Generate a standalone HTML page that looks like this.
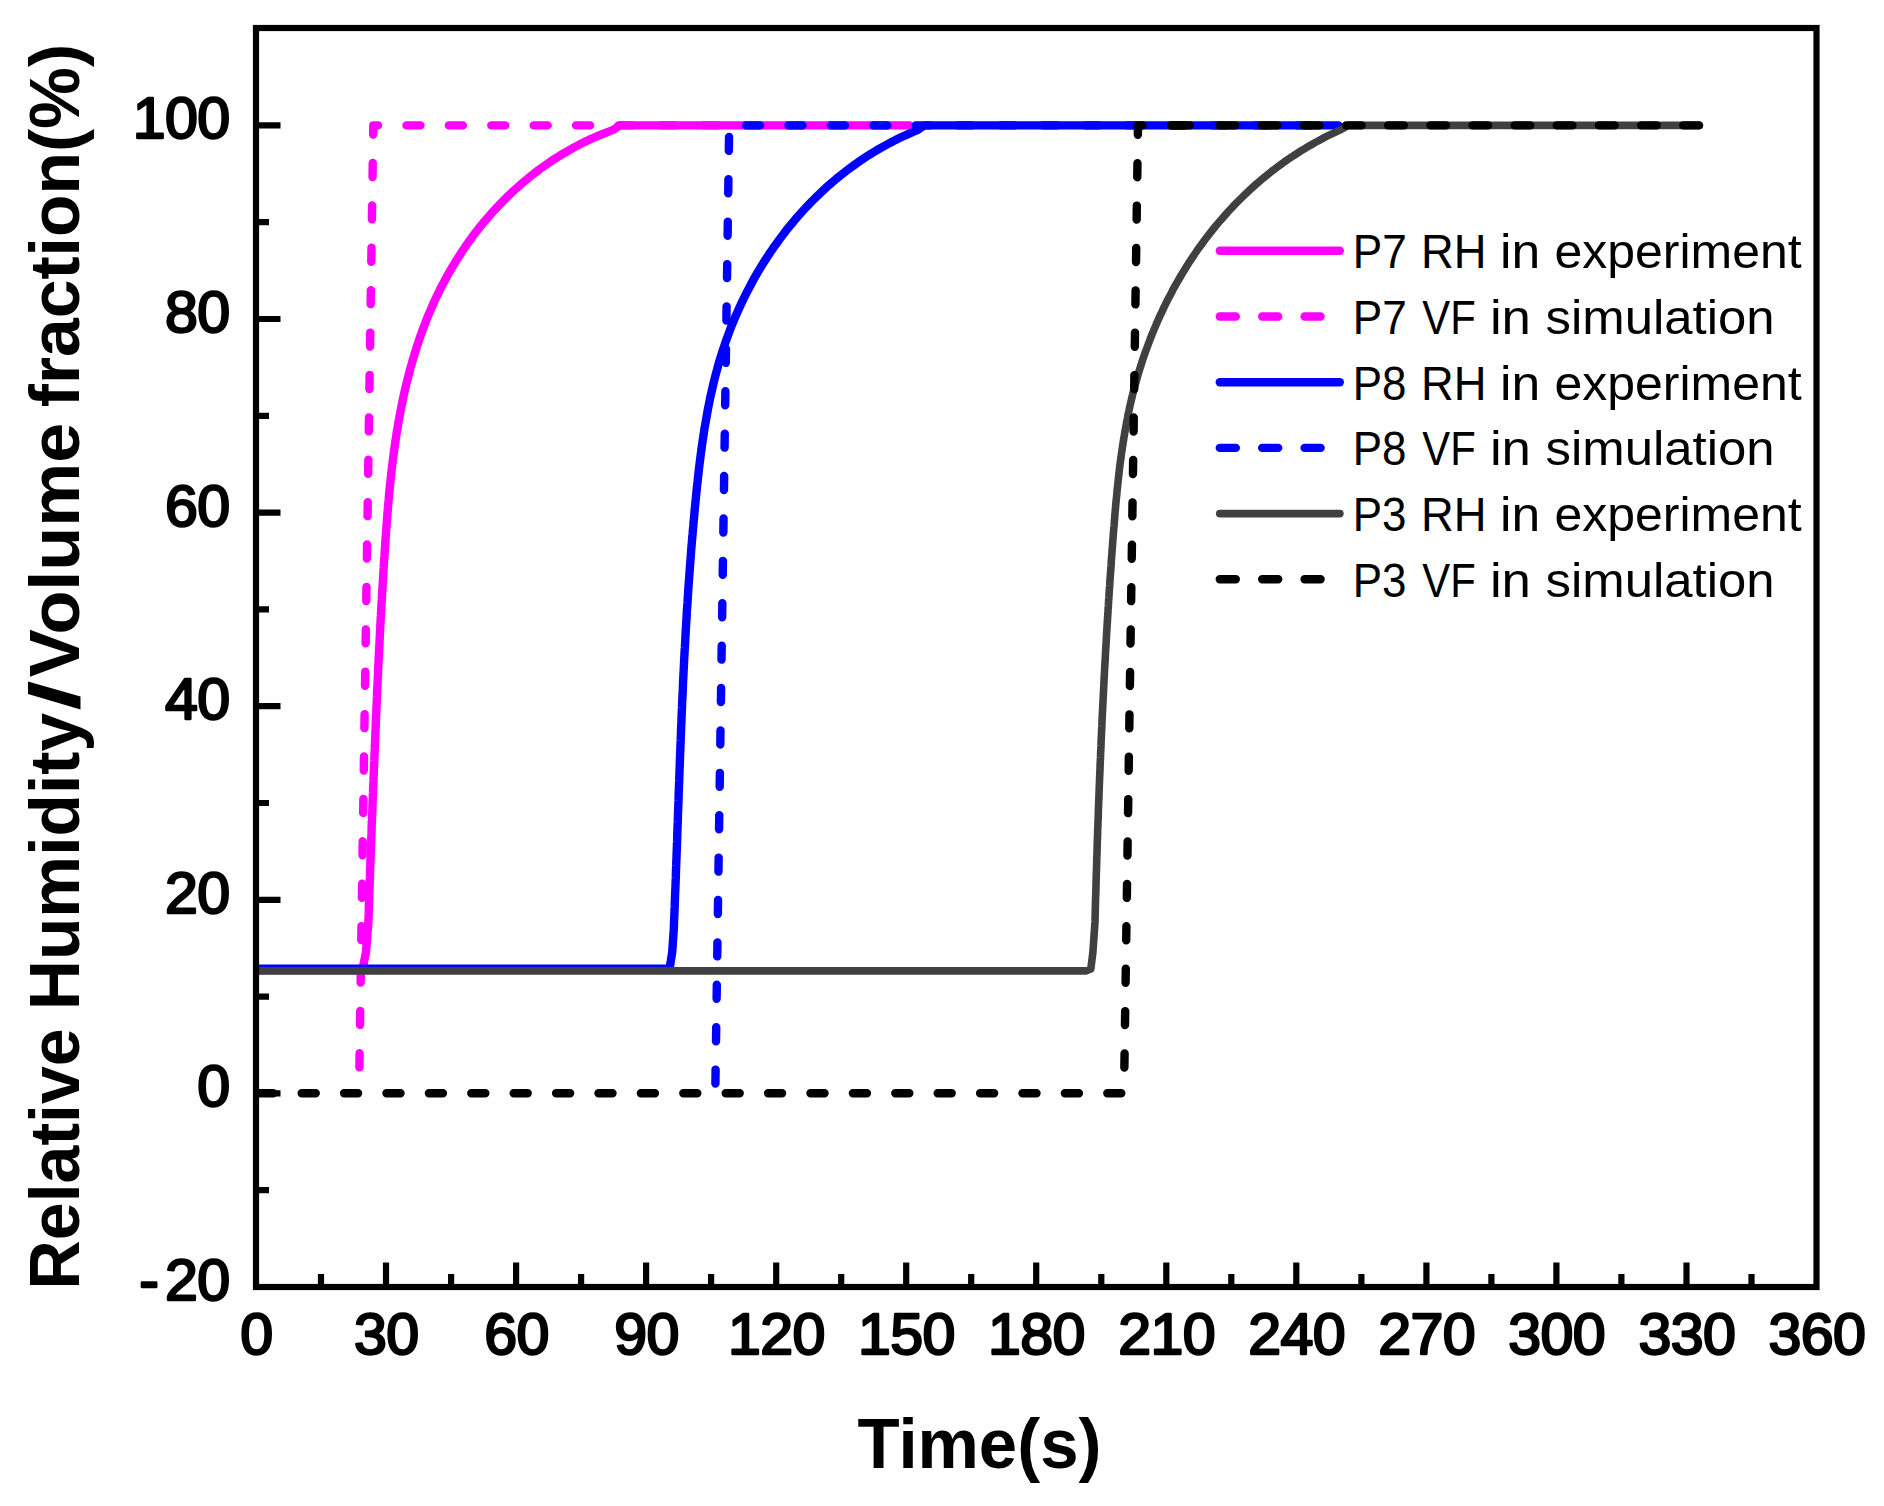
<!DOCTYPE html>
<html lang="en">
<head>
<meta charset="utf-8">
<title>Relative Humidity / Volume fraction vs Time</title>
<style>
html,body{margin:0;padding:0;background:#fff;}
body{width:1884px;height:1506px;overflow:hidden;font-family:'Liberation Sans',sans-serif;}
svg{display:block;}
</style>
</head>
<body>
<svg width="1884" height="1506" viewBox="0 0 1884 1506">
<rect width="1884" height="1506" fill="#fff"/>
<g fill="none" stroke-width="8.4" stroke-linecap="round" stroke-linejoin="round">
<path stroke="#f0f" d="M257.5,970.0 L357.9,970.0 L362.9,967.5 L366.0,952.2 L368.4,921.7 L368.5,917.7 L368.7,913.7 L368.8,909.6 L368.9,905.6 L369.1,901.6 L369.2,897.6 L369.3,893.5 L369.5,889.5 L369.6,885.5 L369.7,881.5 L369.9,877.4 L370.0,873.4 L370.1,869.4 L370.3,865.4 L370.4,861.4 L370.6,857.3 L370.7,853.3 L370.9,849.3 L371.0,845.3 L371.2,841.2 L371.3,837.2 L371.5,833.2 L371.6,829.2 L371.7,825.1 L371.9,821.1 L372.1,817.1 L372.2,813.1 L372.4,809.0 L372.5,805.0 L372.7,801.0 L372.8,797.0 L373.0,792.9 L373.1,788.9 L373.3,784.9 L373.5,780.9 L373.6,776.8 L373.8,772.8 L373.9,768.8 L374.1,764.8 L374.3,760.7 L374.4,756.7 L374.6,752.7 L374.8,748.7 L374.9,744.7 L375.1,740.6 L375.3,736.6 L375.4,732.6 L375.6,728.6 L375.8,724.5 L375.9,720.5 L376.1,716.5 L376.3,712.5 L376.4,708.5 L376.6,704.4 L376.8,700.4 L377.0,696.4 L377.1,692.4 L377.3,688.4 L377.5,684.3 L377.7,680.3 L377.9,676.3 L378.1,672.3 L378.2,668.3 L378.4,664.2 L378.6,660.2 L378.8,656.2 L379.0,652.2 L379.2,648.2 L379.4,644.2 L379.6,640.1 L379.8,636.1 L380.0,632.1 L380.2,628.1 L380.4,624.1 L380.6,620.0 L380.9,616.0 L381.1,612.0 L381.3,608.0 L381.5,604.0 L381.8,600.0 L382.0,595.9 L382.2,591.9 L382.5,587.9 L382.7,583.9 L383.0,579.9 L383.2,575.8 L383.4,571.8 L383.7,567.8 L383.9,563.8 L384.2,559.7 L384.5,555.7 L384.7,551.7 L385.0,547.7 L385.3,543.6 L385.5,539.6 L385.8,535.6 L386.1,531.6 L386.4,527.5 L386.7,523.5 L387.0,519.5 L387.3,515.5 L387.6,511.4 L388.0,507.4 L388.3,503.4 L388.7,499.4 L389.0,495.4 L389.4,491.4 L389.8,487.3 L390.2,483.3 L390.6,479.3 L391.1,475.3 L391.5,471.3 L392.0,467.3 L392.5,463.3 L393.0,459.3 L393.5,455.3 L394.0,451.3 L394.6,447.4 L395.1,443.4 L395.7,439.4 L396.3,435.4 L396.9,431.4 L397.6,427.5 L398.3,423.5 L399.0,419.6 L399.7,415.6 L400.4,411.7 L401.2,407.7 L402.0,403.8 L402.8,399.9 L403.6,395.9 L404.5,392.0 L405.4,388.1 L406.3,384.2 L407.3,380.3 L408.3,376.4 L409.3,372.5 L410.3,368.6 L411.4,364.8 L412.5,360.9 L413.6,357.1 L414.8,353.2 L416.0,349.4 L417.2,345.6 L418.5,341.8 L419.7,338.0 L421.1,334.2 L422.4,330.5 L423.8,326.7 L425.3,323.0 L426.7,319.2 L428.2,315.5 L429.8,311.8 L431.4,308.2 L433.0,304.5 L434.6,300.8 L436.3,297.2 L438.1,293.6 L439.8,290.0 L441.6,286.4 L443.5,282.9 L445.4,279.3 L447.3,275.8 L449.3,272.3 L451.3,268.9 L453.3,265.4 L455.4,262.0 L457.5,258.6 L459.7,255.2 L461.9,251.8 L464.1,248.5 L466.4,245.2 L468.7,241.9 L471.0,238.7 L473.4,235.4 L475.9,232.2 L478.3,229.1 L480.8,225.9 L483.4,222.8 L486.0,219.7 L488.6,216.7 L491.2,213.6 L493.9,210.7 L496.7,207.7 L499.4,204.8 L502.2,201.9 L505.1,199.0 L507.9,196.2 L510.8,193.4 L513.8,190.7 L516.8,188.0 L519.8,185.3 L522.8,182.7 L525.9,180.1 L529.0,177.5 L532.2,175.0 L535.3,172.6 L538.5,170.1 L541.8,167.7 L545.1,165.4 L548.4,163.1 L551.7,160.8 L555.1,158.6 L558.5,156.5 L561.9,154.4 L565.4,152.3 L568.9,150.3 L572.4,148.3 L576.0,146.4 L579.6,144.5 L583.2,142.6 L586.9,140.9 L590.5,139.1 L594.2,137.5 L598.0,135.8 L601.7,134.3 L605.5,132.8 L609.4,131.3 L613.2,129.9 L619.6,125.4 L909.5,125.4"/>
<path stroke="#f0f" stroke-dasharray="14 28.4" d="M359.4,1067.3 L373.3,125.4 L909.5,125.4"/>
<path stroke="#00f" d="M257.5,968.8 L664.7,968.8 L669.7,968.0 L672.2,952.2 L673.7,930.5 L673.9,926.5 L674.0,922.4 L674.2,918.4 L674.4,914.3 L674.5,910.3 L674.7,906.2 L674.8,902.2 L675.0,898.1 L675.1,894.1 L675.3,890.0 L675.5,886.0 L675.6,881.9 L675.8,877.9 L675.9,873.8 L676.0,869.8 L676.2,865.7 L676.3,861.7 L676.5,857.6 L676.6,853.6 L676.8,849.5 L676.9,845.5 L677.1,841.4 L677.2,837.4 L677.3,833.3 L677.5,829.3 L677.6,825.2 L677.8,821.2 L677.9,817.1 L678.0,813.1 L678.2,809.0 L678.3,805.0 L678.5,800.9 L678.6,796.9 L678.7,792.8 L678.9,788.8 L679.0,784.7 L679.2,780.7 L679.3,776.7 L679.5,772.6 L679.6,768.6 L679.8,764.5 L679.9,760.5 L680.0,756.4 L680.2,752.4 L680.4,748.3 L680.5,744.3 L680.7,740.2 L680.8,736.2 L681.0,732.1 L681.1,728.1 L681.3,724.0 L681.5,720.0 L681.6,715.9 L681.8,711.9 L682.0,707.9 L682.1,703.8 L682.3,699.8 L682.5,695.7 L682.7,691.7 L682.9,687.6 L683.0,683.6 L683.2,679.5 L683.4,675.5 L683.6,671.4 L683.8,667.4 L684.0,663.4 L684.2,659.3 L684.4,655.3 L684.6,651.2 L684.9,647.2 L685.1,643.1 L685.3,639.1 L685.5,635.0 L685.7,631.0 L686.0,626.9 L686.2,622.9 L686.5,618.9 L686.7,614.8 L686.9,610.8 L687.2,606.7 L687.5,602.7 L687.7,598.6 L688.0,594.6 L688.2,590.5 L688.5,586.5 L688.8,582.5 L689.1,578.4 L689.4,574.4 L689.7,570.3 L690.0,566.3 L690.3,562.2 L690.6,558.2 L690.9,554.2 L691.2,550.1 L691.5,546.1 L691.9,542.0 L692.2,538.0 L692.6,533.9 L692.9,529.9 L693.3,525.9 L693.6,521.8 L694.0,517.8 L694.4,513.7 L694.7,509.7 L695.1,505.6 L695.5,501.6 L695.9,497.6 L696.3,493.5 L696.7,489.5 L697.1,485.4 L697.6,481.4 L698.0,477.4 L698.5,473.3 L698.9,469.3 L699.4,465.3 L699.9,461.2 L700.4,457.2 L700.9,453.2 L701.5,449.2 L702.0,445.1 L702.6,441.1 L703.2,437.1 L703.8,433.1 L704.4,429.1 L705.1,425.1 L705.8,421.1 L706.5,417.2 L707.2,413.2 L707.9,409.2 L708.7,405.3 L709.5,401.3 L710.3,397.3 L711.2,393.4 L712.1,389.5 L713.0,385.5 L713.9,381.6 L714.9,377.7 L715.9,373.8 L717.0,369.9 L718.0,366.0 L719.1,362.2 L720.3,358.3 L721.5,354.5 L722.7,350.6 L724.0,346.8 L725.3,343.0 L726.6,339.2 L728.0,335.4 L729.4,331.6 L730.8,327.8 L732.3,324.0 L733.9,320.3 L735.4,316.6 L737.1,312.9 L738.7,309.2 L740.4,305.5 L742.1,301.8 L743.9,298.2 L745.7,294.5 L747.5,290.9 L749.4,287.4 L751.3,283.8 L753.2,280.2 L755.2,276.7 L757.2,273.2 L759.3,269.7 L761.4,266.2 L763.5,262.8 L765.7,259.4 L767.9,256.0 L770.1,252.6 L772.4,249.3 L774.7,245.9 L777.1,242.7 L779.5,239.4 L781.9,236.1 L784.3,232.9 L786.8,229.7 L789.3,226.6 L791.9,223.5 L794.5,220.4 L797.1,217.3 L799.8,214.3 L802.5,211.3 L805.2,208.3 L808.0,205.3 L810.8,202.4 L813.6,199.6 L816.5,196.7 L819.4,193.9 L822.4,191.1 L825.3,188.4 L828.3,185.7 L831.4,183.0 L834.5,180.4 L837.6,177.8 L840.7,175.3 L843.9,172.8 L847.1,170.3 L850.3,167.9 L853.6,165.5 L856.9,163.1 L860.2,160.8 L863.6,158.5 L867.0,156.3 L870.4,154.1 L873.9,152.0 L877.4,149.9 L880.9,147.8 L884.5,145.8 L888.1,143.9 L891.7,142.0 L895.3,140.1 L899.0,138.3 L902.7,136.5 L906.5,134.8 L910.3,133.1 L914.1,131.5 L917.9,129.9 L924.5,125.4 L1338.5,125.4"/>
<path stroke="#00f" stroke-dasharray="14 28.4" d="M715.4,1083.6 L729.2,125.4 L1338.5,125.4"/>
<path stroke="#404040" stroke-width="7.6" d="M257.5,970.9 L1085.8,970.9 L1090.8,969.0 L1092.9,952.2 L1095.0,921.7 L1095.1,917.7 L1095.2,913.7 L1095.3,909.7 L1095.4,905.7 L1095.5,901.6 L1095.6,897.6 L1095.8,893.6 L1095.9,889.6 L1096.0,885.6 L1096.1,881.6 L1096.2,877.6 L1096.3,873.6 L1096.5,869.6 L1096.6,865.6 L1096.7,861.6 L1096.8,857.6 L1097.0,853.6 L1097.1,849.5 L1097.2,845.5 L1097.3,841.5 L1097.5,837.5 L1097.6,833.5 L1097.7,829.5 L1097.9,825.5 L1098.0,821.5 L1098.2,817.5 L1098.3,813.5 L1098.4,809.5 L1098.6,805.5 L1098.7,801.5 L1098.9,797.5 L1099.0,793.5 L1099.2,789.5 L1099.3,785.5 L1099.5,781.5 L1099.6,777.5 L1099.8,773.5 L1100.0,769.5 L1100.1,765.5 L1100.3,761.4 L1100.5,757.4 L1100.6,753.4 L1100.8,749.4 L1101.0,745.4 L1101.1,741.4 L1101.3,737.4 L1101.5,733.4 L1101.7,729.4 L1101.9,725.4 L1102.0,721.4 L1102.2,717.4 L1102.4,713.4 L1102.6,709.4 L1102.8,705.4 L1103.0,701.4 L1103.2,697.4 L1103.4,693.4 L1103.6,689.4 L1103.8,685.4 L1104.0,681.4 L1104.2,677.4 L1104.4,673.4 L1104.6,669.4 L1104.8,665.4 L1105.1,661.4 L1105.3,657.4 L1105.5,653.4 L1105.7,649.4 L1106.0,645.4 L1106.2,641.4 L1106.4,637.4 L1106.6,633.4 L1106.9,629.4 L1107.1,625.4 L1107.4,621.4 L1107.6,617.4 L1107.9,613.4 L1108.1,609.4 L1108.4,605.3 L1108.6,601.3 L1108.9,597.3 L1109.1,593.3 L1109.4,589.3 L1109.7,585.3 L1109.9,581.3 L1110.2,577.3 L1110.5,573.3 L1110.8,569.3 L1111.1,565.3 L1111.3,561.3 L1111.6,557.3 L1111.9,553.3 L1112.2,549.3 L1112.5,545.3 L1112.8,541.3 L1113.1,537.3 L1113.4,533.3 L1113.7,529.3 L1114.1,525.3 L1114.4,521.2 L1114.7,517.2 L1115.0,513.2 L1115.4,509.2 L1115.7,505.2 L1116.1,501.2 L1116.5,497.2 L1116.9,493.2 L1117.2,489.2 L1117.7,485.3 L1118.1,481.3 L1118.5,477.3 L1119.0,473.3 L1119.4,469.3 L1119.9,465.3 L1120.4,461.4 L1121.0,457.4 L1121.5,453.4 L1122.1,449.5 L1122.7,445.5 L1123.3,441.6 L1123.9,437.6 L1124.6,433.7 L1125.3,429.7 L1126.0,425.8 L1126.7,421.9 L1127.5,418.0 L1128.2,414.0 L1129.1,410.1 L1129.9,406.2 L1130.8,402.3 L1131.7,398.5 L1132.6,394.6 L1133.6,390.7 L1134.6,386.8 L1135.7,383.0 L1136.8,379.1 L1137.9,375.3 L1139.0,371.5 L1140.2,367.7 L1141.4,363.8 L1142.6,360.0 L1143.9,356.3 L1145.2,352.5 L1146.6,348.7 L1148.0,345.0 L1149.4,341.2 L1150.8,337.5 L1152.3,333.8 L1153.8,330.1 L1155.4,326.4 L1156.9,322.7 L1158.5,319.1 L1160.2,315.4 L1161.9,311.8 L1163.6,308.2 L1165.3,304.6 L1167.1,301.0 L1168.9,297.5 L1170.8,293.9 L1172.6,290.4 L1174.5,286.9 L1176.5,283.4 L1178.5,280.0 L1180.5,276.5 L1182.5,273.1 L1184.6,269.7 L1186.7,266.3 L1188.8,262.9 L1191.0,259.6 L1193.2,256.3 L1195.4,253.0 L1197.7,249.7 L1200.0,246.5 L1202.4,243.2 L1204.7,240.0 L1207.1,236.9 L1209.6,233.7 L1212.0,230.6 L1214.5,227.5 L1217.1,224.4 L1219.6,221.4 L1222.2,218.4 L1224.9,215.4 L1227.5,212.4 L1230.2,209.5 L1232.9,206.6 L1235.7,203.7 L1238.5,200.9 L1241.3,198.1 L1244.2,195.3 L1247.1,192.5 L1250.0,189.8 L1252.9,187.1 L1255.9,184.4 L1258.9,181.8 L1262.0,179.2 L1265.1,176.7 L1268.2,174.1 L1271.3,171.6 L1274.5,169.2 L1277.7,166.8 L1281.0,164.4 L1284.2,162.0 L1287.6,159.7 L1290.9,157.4 L1294.3,155.2 L1297.7,153.0 L1301.1,150.8 L1304.6,148.7 L1308.1,146.6 L1311.6,144.6 L1315.2,142.5 L1318.8,140.6 L1322.4,138.6 L1326.0,136.7 L1329.7,134.9 L1333.5,133.1 L1337.2,131.3 L1341.0,129.6 L1348.0,125.4 L1699.5,125.4"/>
<path stroke="#000" stroke-dasharray="14 28.4" d="M259.3,1093.2 L1124,1093.2 L1138,125.4 L1186,125.4"/>
<path stroke="#000" d="M1172,125.4 L1190,125.4"/>
<path stroke="#000" stroke-dasharray="15.6 26.55" d="M1219.6,125.4 L1700.3,125.4"/>
</g>
<g stroke="#000" stroke-width="6.2" fill="none">
<rect x="256.0" y="28.0" width="1560.5" height="1259.0"/>
<path d="M321.0,1287.0 v-13 M386.0,1287.0 v-24.5 M451.1,1287.0 v-13 M516.1,1287.0 v-24.5 M581.1,1287.0 v-13 M646.1,1287.0 v-24.5 M711.1,1287.0 v-13 M776.2,1287.0 v-24.5 M841.2,1287.0 v-13 M906.2,1287.0 v-24.5 M971.2,1287.0 v-13 M1036.2,1287.0 v-24.5 M1101.3,1287.0 v-13 M1166.3,1287.0 v-24.5 M1231.3,1287.0 v-13 M1296.3,1287.0 v-24.5 M1361.4,1287.0 v-13 M1426.4,1287.0 v-24.5 M1491.4,1287.0 v-13 M1556.4,1287.0 v-24.5 M1621.4,1287.0 v-13 M1686.5,1287.0 v-24.5 M1751.5,1287.0 v-13 M256.0,1190.2 h13 M256.0,1093.4 h24.5 M256.0,996.6 h13 M256.0,899.8 h24.5 M256.0,803.0 h13 M256.0,706.2 h24.5 M256.0,609.4 h13 M256.0,512.6 h24.5 M256.0,415.8 h13 M256.0,319.0 h24.5 M256.0,222.2 h13 M256.0,125.4 h24.5"/>
</g>
<g font-family="'Liberation Sans', sans-serif" fill="#000">
<g font-size="57.4" stroke="#000" stroke-width="2.3" stroke-linejoin="round" text-anchor="middle" letter-spacing="-0.6">
<text transform="translate(256.3,1353.8) scale(1.03,1)">0</text>
<text transform="translate(386.3,1353.8) scale(1.03,1)">30</text>
<text transform="translate(516.4,1353.8) scale(1.03,1)">60</text>
<text transform="translate(646.4,1353.8) scale(1.03,1)">90</text>
<text transform="translate(776.5,1353.8) scale(1.03,1)">120</text>
<text transform="translate(906.5,1353.8) scale(1.03,1)">150</text>
<text transform="translate(1036.5,1353.8) scale(1.03,1)">180</text>
<text transform="translate(1166.6,1353.8) scale(1.03,1)">210</text>
<text transform="translate(1296.6,1353.8) scale(1.03,1)">240</text>
<text transform="translate(1426.7,1353.8) scale(1.03,1)">270</text>
<text transform="translate(1556.7,1353.8) scale(1.03,1)">300</text>
<text transform="translate(1686.8,1353.8) scale(1.03,1)">330</text>
<text transform="translate(1816.8,1353.8) scale(1.03,1)">360</text>
</g>
<g font-size="57.4" stroke="#000" stroke-width="2.3" stroke-linejoin="round" text-anchor="end" letter-spacing="-0.6">
<text transform="translate(229.6,1300.0) scale(1.03,1)">-<tspan dx="6.5">20</tspan></text>
<text transform="translate(229.6,1106.4) scale(1.03,1)">0</text>
<text transform="translate(229.6,912.8) scale(1.03,1)">20</text>
<text transform="translate(229.6,719.2) scale(1.03,1)">40</text>
<text transform="translate(229.6,525.6) scale(1.03,1)">60</text>
<text transform="translate(229.6,332.0) scale(1.03,1)">80</text>
<text transform="translate(229.6,138.4) scale(1.03,1)">100</text>
</g>
<text x="857.5" y="1468.3" font-size="70" font-weight="bold" textLength="244" lengthAdjust="spacingAndGlyphs">Time(s)</text>
<g font-size="70" font-weight="bold" transform="translate(78.9,0) rotate(-90)">
<text y="0"><tspan x="-1289.4" textLength="261.1" lengthAdjust="spacingAndGlyphs">Relative</tspan> <tspan x="-1010.3" textLength="297.4" lengthAdjust="spacingAndGlyphs">Humidity</tspan><tspan x="-710.6" textLength="30.1" lengthAdjust="spacingAndGlyphs">/</tspan><tspan x="-677.2" textLength="254.3" lengthAdjust="spacingAndGlyphs">Volume</tspan> <tspan x="-407.3" textLength="363.5" lengthAdjust="spacingAndGlyphs">fraction(%)</tspan></text>
</g>
<g font-size="47.6">
<path d="M1219.8,250.8 H1339.8" fill="none" stroke="#f0f" stroke-width="8.4" stroke-linecap="round"/>
<text y="268.1"><tspan x="1352.7" textLength="54.0" lengthAdjust="spacingAndGlyphs">P7</tspan> <tspan x="1420.9" textLength="65.5" lengthAdjust="spacingAndGlyphs">RH</tspan> <tspan x="1500.1" textLength="40.2" lengthAdjust="spacingAndGlyphs">in</tspan> <tspan x="1554.5" textLength="247.1" lengthAdjust="spacingAndGlyphs">experiment</tspan></text>
<path d="M1219.8,316.5 H1339.8" fill="none" stroke="#f0f" stroke-width="8.4" stroke-linecap="round" stroke-dasharray="16 26.4"/>
<text y="333.8"><tspan x="1352.7" textLength="54.0" lengthAdjust="spacingAndGlyphs">P7</tspan> <tspan x="1422.3" textLength="53.4" lengthAdjust="spacingAndGlyphs">VF</tspan> <tspan x="1489.9" textLength="41.1" lengthAdjust="spacingAndGlyphs">in</tspan> <tspan x="1545.5" textLength="229.1" lengthAdjust="spacingAndGlyphs">simulation</tspan></text>
<path d="M1219.8,382.2 H1339.8" fill="none" stroke="#00f" stroke-width="8.4" stroke-linecap="round"/>
<text y="399.5"><tspan x="1352.7" textLength="53.7" lengthAdjust="spacingAndGlyphs">P8</tspan> <tspan x="1420.9" textLength="65.5" lengthAdjust="spacingAndGlyphs">RH</tspan> <tspan x="1500.1" textLength="40.2" lengthAdjust="spacingAndGlyphs">in</tspan> <tspan x="1554.5" textLength="247.1" lengthAdjust="spacingAndGlyphs">experiment</tspan></text>
<path d="M1219.8,447.9 H1339.8" fill="none" stroke="#00f" stroke-width="8.4" stroke-linecap="round" stroke-dasharray="16 26.4"/>
<text y="465.2"><tspan x="1352.7" textLength="53.7" lengthAdjust="spacingAndGlyphs">P8</tspan> <tspan x="1422.3" textLength="53.4" lengthAdjust="spacingAndGlyphs">VF</tspan> <tspan x="1489.9" textLength="41.1" lengthAdjust="spacingAndGlyphs">in</tspan> <tspan x="1545.5" textLength="229.1" lengthAdjust="spacingAndGlyphs">simulation</tspan></text>
<path d="M1219.8,513.6 H1339.8" fill="none" stroke="#404040" stroke-width="7.8" stroke-linecap="round"/>
<text y="530.9"><tspan x="1352.7" textLength="53.7" lengthAdjust="spacingAndGlyphs">P3</tspan> <tspan x="1420.9" textLength="65.5" lengthAdjust="spacingAndGlyphs">RH</tspan> <tspan x="1500.1" textLength="40.2" lengthAdjust="spacingAndGlyphs">in</tspan> <tspan x="1554.5" textLength="247.1" lengthAdjust="spacingAndGlyphs">experiment</tspan></text>
<path d="M1219.8,579.3 H1339.8" fill="none" stroke="#000" stroke-width="8.4" stroke-linecap="round" stroke-dasharray="16 26.4"/>
<text y="596.6"><tspan x="1352.7" textLength="53.7" lengthAdjust="spacingAndGlyphs">P3</tspan> <tspan x="1422.3" textLength="53.4" lengthAdjust="spacingAndGlyphs">VF</tspan> <tspan x="1489.9" textLength="41.1" lengthAdjust="spacingAndGlyphs">in</tspan> <tspan x="1545.5" textLength="229.1" lengthAdjust="spacingAndGlyphs">simulation</tspan></text>
</g>
</g>
</svg>
</body>
</html>
